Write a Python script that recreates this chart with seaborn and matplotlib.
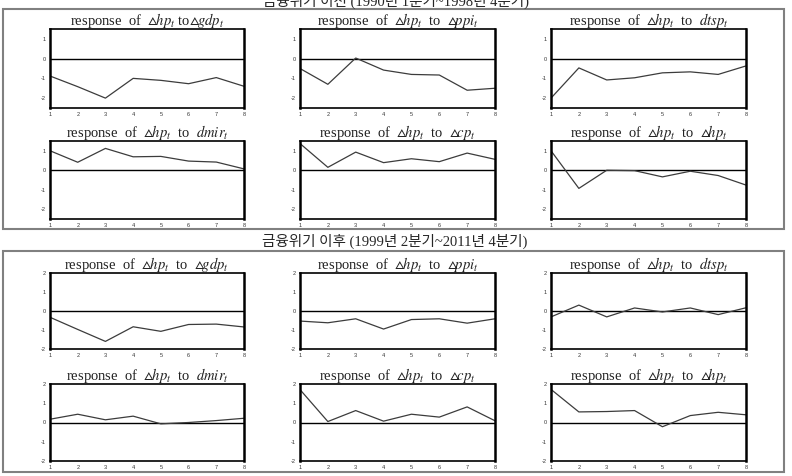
import numpy as np
import pandas as pd
import matplotlib
matplotlib.use('Agg')
import matplotlib.pyplot as plt
from matplotlib.patches import Rectangle
import seaborn as sns

sns.set_style('white')
plt.rcParams['font.family'] = ['Liberation Serif', 'Noto Sans CJK KR', 'DejaVu Sans']
plt.rcParams['mathtext.fontset'] = 'stix'
plt.rcParams['axes.unicode_minus'] = False

# 기간(분기)
steps = [1, 2, 3, 4, 5, 6, 7, 8]

# 금융위기 이전
pre_gdp = [-0.88, -1.42, -2.0, -1.0, -1.1, -1.27, -0.96, -1.4]
pre_ppi = [-0.5, -1.3, 0.03, -0.58, -0.8, -0.83, -1.6, -1.5]
pre_dtsp = [-2.0, -0.47, -1.08, -0.97, -0.72, -0.67, -0.8, -0.37]
pre_dmir = [1.0, 0.41, 1.12, 0.69, 0.71, 0.47, 0.42, 0.07]
pre_cp = [1.37, 0.15, 0.93, 0.39, 0.59, 0.44, 0.88, 0.56]
pre_hp = [1.0, -0.93, 0.0, -0.02, -0.34, -0.05, -0.27, -0.76]

# 금융위기 이후
post_gdp = [-0.33, -0.97, -1.6, -0.83, -1.07, -0.71, -0.69, -0.84]
post_ppi = [-0.53, -0.62, -0.41, -0.95, -0.45, -0.41, -0.64, -0.41]
post_dtsp = [-0.31, 0.31, -0.31, 0.16, -0.05, 0.16, -0.19, 0.17]
post_dmir = [0.17, 0.43, 0.14, 0.33, -0.07, 0.0, 0.1, 0.22]
post_cp = [1.71, 0.05, 0.62, 0.07, 0.43, 0.28, 0.81, 0.09]
post_hp = [1.72, 0.55, 0.57, 0.62, -0.22, 0.36, 0.53, 0.40]

titles = [
    r'response  of  $\vartriangle\!hp_t$  to  $\vartriangle\!gdp_t$',
    r'response  of  $\vartriangle\!hp_t$  to  $\vartriangle\!ppi_t$',
    r'response  of  $\vartriangle\!hp_t$  to  $dtsp_t$',
    r'response  of  $\vartriangle\!hp_t$  to  $dmir_t$',
    r'response  of  $\vartriangle\!hp_t$  to  $\vartriangle\!cp_t$',
    r'response  of  $\vartriangle\!hp_t$  to  $\vartriangle\!hp_t$',
]
# 위쪽 첫 패널은 'to' 뒤 공백이 없음
pre_titles = [r'response  of  $\vartriangle\!hp_t$ to$\vartriangle\!gdp_t$'] + titles[1:]
pre_series = [pre_gdp, pre_ppi, pre_dtsp, pre_dmir, pre_cp, pre_hp]
post_series = [post_gdp, post_ppi, post_dtsp, post_dmir, post_cp, post_hp]

W, H = 792, 476
fig = plt.figure(figsize=(W / 100, H / 100), dpi=100)


def px_axes(x0, y0, x1, y1):
    return fig.add_axes([x0 / W, 1 - y1 / H, (x1 - x0) / W, (y1 - y0) / H])


def draw_panel(ax, vals, title, ylim, yticks):
    df = pd.DataFrame({'step': steps, 'resp': vals})
    ax.axhline(0, color='black', lw=1.0, zorder=1)
    sns.lineplot(data=df, x='step', y='resp', ax=ax, color='#3c3c3c', lw=0.9, zorder=2)
    ax.set_xlim(1, 8)
    ax.set_ylim(*ylim)
    ax.set_xticks(steps)
    ax.set_yticks(yticks)
    ax.set_xlabel('')
    ax.set_ylabel('')
    ax.tick_params(axis='both', labelsize=4, length=2, width=0.6, pad=1,
                   direction='out', color='black', labelcolor='#333333')
    for lab in ax.get_xticklabels() + ax.get_yticklabels():
        lab.set_family('Liberation Sans')
    for side in ['left', 'right']:
        ax.spines[side].set_linewidth(1.8)
        ax.spines[side].set_color('black')
    for side in ['top', 'bottom']:
        ax.spines[side].set_linewidth(1.2)
        ax.spines[side].set_color('black')
    ax.set_title(title, fontsize=10.5, pad=3, color='#222222')


cols = [(50, 244), (300, 495), (551, 746)]

# 위쪽 블록
rows_pre = [(29, 108), (141, 219)]
for i, vals in enumerate(pre_series):
    r, c = divmod(i, 3)
    ax = px_axes(cols[c][0], rows_pre[r][0], cols[c][1], rows_pre[r][1])
    draw_panel(ax, vals, pre_titles[i], (-2.5, 1.5), [-2, -1, 0, 1])

# 아래쪽 블록
rows_post = [(273, 349), (384, 461)]
for i, vals in enumerate(post_series):
    r, c = divmod(i, 3)
    ax = px_axes(cols[c][0], rows_post[r][0], cols[c][1], rows_post[r][1])
    draw_panel(ax, vals, titles[i], (-2, 2), [-2, -1, 0, 1, 2])

# 테두리
for (y0, y1) in [(9, 229), (251, 472)]:
    fig.patches.append(Rectangle((3 / W, 1 - y1 / H), 781 / W, (y1 - y0) / H,
                                 transform=fig.transFigure, fill=False,
                                 edgecolor='#808080', lw=1.5))

fig.text(396 / W, 1 - 1 / H, '금융위기 이전 (1990년 1분기~1998년 4분기)',
         ha='center', va='center', fontsize=10.5)
fig.text(395 / W, 1 - 241 / H, '금융위기 이후 (1999년 2분기~2011년 4분기)',
         ha='center', va='center', fontsize=10.5)

fig.savefig('out.png', dpi=100)
